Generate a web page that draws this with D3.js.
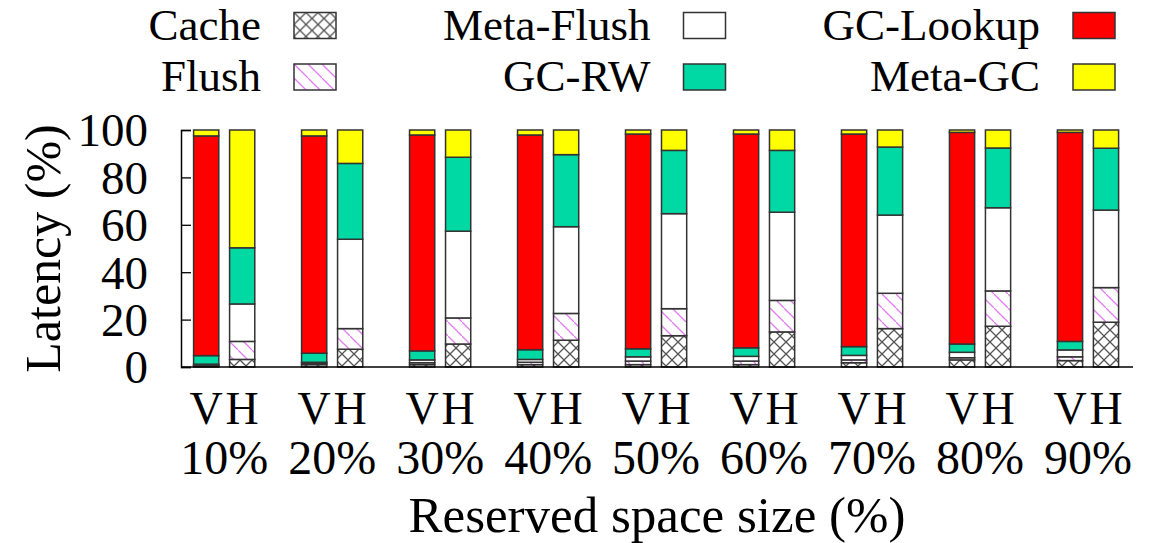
<!DOCTYPE html>
<html>
<head>
<meta charset="utf-8">
<script src="https://cdn.jsdelivr.net/npm/d3@7"></script>
<style>
  body { margin: 0; background: #fff; }
  svg text { font-family: "Liberation Serif", "Times New Roman", serif; fill: #000; }
</style>
</head>
<body>
<svg id="chart" width="1150" height="543"></svg>
<script>
// reserved space sizes (one group each), V and H bars per group
const groups = ["10%", "20%", "30%", "40%", "50%", "60%", "70%", "80%", "90%"];
const barNames = ["V", "H"];
const keys = ["Cache", "Flush", "Meta-Flush", "GC-RW", "GC-Lookup", "Meta-GC"];

// V bars (percent of latency)
const cacheV = [0.5, 1, 1, 1, 1, 1, 1.8, 3, 2.7];
const flushV = [0.3, 0.5, 0.8, 1, 1.5, 1.5, 1.2, 0.9, 1.6];
const metaFlushV = [0.4, 0.5, 1.2, 1.2, 1.8, 2, 1.9, 2.3, 2.9];
const gcRwV = [3.6, 3.8, 3.8, 4.1, 3.4, 3.6, 3.7, 3.5, 3.6];
const gcLookupV = [92.7, 91.7, 91.1, 90.6, 90.6, 90.2, 89.7, 89.3, 88.2];
const metaGcV = [2.5, 2.5, 2.1, 2.1, 1.7, 1.7, 1.7, 1.0, 1.0];

// H bars
const cacheH = [3.2, 7.5, 9.7, 11.3, 13.2, 14.8, 16.2, 17.2, 18.9];
const flushH = [7.6, 8.7, 11, 11.3, 11.4, 13.3, 14.9, 14.9, 14.6];
const metaFlushH = [15.8, 37.7, 36.6, 36.6, 40.1, 37.2, 33, 35.1, 32.7];
const gcRwH = [23.7, 32, 31.2, 30.4, 26.7, 26.1, 28.7, 25.2, 26.1];
const gcLookupH = [0, 0, 0, 0, 0, 0, 0, 0, 0];
const metaGcH = [49.7, 14.1, 11.5, 10.4, 8.6, 8.6, 7.2, 7.6, 7.7];

const yTicks = [0, 20, 40, 60, 80, 100];

const FILL = {
  "Cache": "url(#pat-cache)",
  "Flush": "url(#pat-flush)",
  "Meta-Flush": "#ffffff",
  "GC-RW": "#00d9a3",
  "GC-Lookup": "#ff0000",
  "Meta-GC": "#ffff00",
};

const svg = d3.select("#chart");

// hatch patterns
const defs = svg.append("defs");
const pc = defs.append("pattern").attr("id", "pat-cache")
  .attr("patternUnits", "userSpaceOnUse").attr("width", 12).attr("height", 12);
pc.append("rect").attr("width", 12).attr("height", 12).attr("fill", "#fff");
pc.append("path").attr("d", "M-1,-1L13,13M13,-1L-1,13")
  .attr("stroke", "#555").attr("stroke-width", 1.3);

const pf = defs.append("pattern").attr("id", "pat-flush")
  .attr("patternUnits", "userSpaceOnUse").attr("width", 14).attr("height", 14);
pf.append("rect").attr("width", 14).attr("height", 14).attr("fill", "#fff");
pf.append("path").attr("d", "M-1,-1L15,15")
  .attr("stroke", "#e27ef0").attr("stroke-width", 1.3);

// build rows: one per bar
const seriesV = [cacheV, flushV, metaFlushV, gcRwV, gcLookupV, metaGcV];
const seriesH = [cacheH, flushH, metaFlushH, gcRwH, gcLookupH, metaGcH];
const rows = [];
groups.forEach((g, i) => {
  [seriesV, seriesH].forEach((ser, b) => {
    const row = { group: g, bar: barNames[b], slot: i * 3 + b };
    keys.forEach((k, j) => { row[k] = ser[j][i]; });
    rows.push(row);
  });
});

const stacked = d3.stack().keys(keys)(rows);

const x = d3.scaleLinear().domain([-0.7, 25.75]).range([181, 1133]);
const y = d3.scaleLinear().domain([0, 100]).range([367, 130]);
const barW = x(0.7) - x(0);

// bars
const layer = svg.append("g").selectAll("g")
  .data(stacked)
  .join("g")
  .attr("fill", (d) => FILL[d.key]);

layer.selectAll("rect")
  .data((d) => d.filter((s) => s[1] - s[0] > 0))
  .join("rect")
  .attr("x", (d) => x(d.data.slot) - barW / 2)
  .attr("y", (d) => y(d[1]))
  .attr("width", barW)
  .attr("height", (d) => y(d[0]) - y(d[1]))
  .attr("stroke", "#333")
  .attr("stroke-width", 1.5);

// axes: left + bottom border only, ticks inward
const yAxis = d3.axisLeft(y).tickValues(yTicks).tickSize(-10).tickPadding(33);
const gy = svg.append("g").attr("transform", `translate(${x.range()[0]},0)`).call(yAxis);
gy.select(".domain").attr("stroke", "#000").attr("stroke-width", 1.5);
gy.selectAll(".tick line").attr("stroke", "#000").attr("stroke-width", 1.3);
gy.selectAll(".tick text")
  .attr("font-size", 47)
  .attr("font-family", "Liberation Serif")
  .attr("dy", "0.34em");

svg.append("line")
  .attr("x1", x.range()[0]).attr("x2", x.range()[1])
  .attr("y1", y(0)).attr("y2", y(0))
  .attr("stroke", "#000").attr("stroke-width", 1.5);

// V / H labels under each bar
svg.append("g").selectAll("text")
  .data(rows)
  .join("text")
  .attr("x", (d) => x(d.slot))
  .attr("y", 424)
  .attr("text-anchor", "middle")
  .attr("font-size", 46)
  .text((d) => d.bar);

// group labels
svg.append("g").selectAll("text")
  .data(groups)
  .join("text")
  .attr("x", (d, i) => x(i * 3 + 0.5))
  .attr("y", 474)
  .attr("text-anchor", "middle")
  .attr("font-size", 48)
  .text((d) => d);

// axis titles
svg.append("text")
  .attr("x", (x.range()[0] + x.range()[1]) / 2)
  .attr("y", 532)
  .attr("text-anchor", "middle")
  .attr("font-size", 51)
  .text("Reserved space size (%)");

svg.append("text")
  .attr("transform", `translate(60,${(y(0) + y(100)) / 2}) rotate(-90)`)
  .attr("text-anchor", "middle")
  .attr("font-size", 50)
  .text("Latency (%)");

// legend, column-major 2 rows x 3 cols
const legend = svg.append("g").selectAll("g")
  .data(keys)
  .join("g")
  .attr("transform", (d, i) => {
    const col = Math.floor(i / 2);
    const row = i % 2;
    return `translate(${294 + col * 389.5},${12.5 + row * 51.5})`;
  });

legend.append("rect")
  .attr("width", 42)
  .attr("height", 26)
  .attr("fill", (d) => FILL[d])
  .attr("stroke", "#333")
  .attr("stroke-width", 1.5);

legend.append("text")
  .attr("x", -33)
  .attr("y", 27)
  .attr("text-anchor", "end")
  .attr("font-size", 45)
  .text((d) => d);
</script>
</body>
</html>
